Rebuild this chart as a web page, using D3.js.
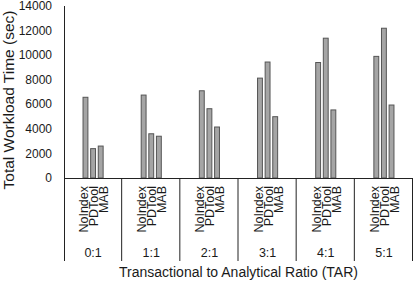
<!DOCTYPE html>
<html>
<head>
<meta charset="utf-8">
<script src="https://cdn.jsdelivr.net/npm/d3@7"></script>
<style>
  body { margin: 0; background: #fff; }
  svg text { font-family: "Liberation Sans", Arial, sans-serif; fill: #1a1a1a; }
</style>
</head>
<body>
<svg id="chart"></svg>
<script>
const ratios = ["0:1", "1:1", "2:1", "3:1", "4:1", "5:1"];
const tools = ["NoIndex", "PDTool", "MAB"];
const noIndex = [6570, 6750, 7100, 8130, 9400, 9900];
const pdTool = [2390, 3600, 5640, 9440, 11380, 12190];
const mab = [2600, 3400, 4150, 4990, 5540, 5940];
const yTicks = [0, 2000, 4000, 6000, 8000, 10000, 12000, 14000];

const W = 415, H = 282;
const margin = { top: 6, right: 2, bottom: 104, left: 64 };
const width = W - margin.left - margin.right;
const height = H - margin.top - margin.bottom;

const svg = d3.select("#chart").attr("width", W).attr("height", H);
const g = svg.append("g").attr("transform", `translate(${margin.left},${margin.top})`);

const x = d3.scaleBand().domain(ratios).range([0, width]).padding(0);
const xInner = d3.scaleBand().domain(tools).range([0, x.bandwidth()]).paddingInner(0.36).paddingOuter(2.5);
// rotated labels: baseline positions, on their own grid
const xLabel = d3.scalePoint().domain(tools).range([x.bandwidth() / 2 - 5, x.bandwidth() / 2 + 15]);
const y = d3.scaleLinear().domain([0, 14000]).range([height, 0]);

const rows = ratios.map((r, i) => ({ ratio: r, values: [noIndex[i], pdTool[i], mab[i]] }));

// y tick labels (no tick marks)
g.selectAll(".ytick")
  .data(yTicks)
  .enter().append("text")
  .attr("x", -12)
  .attr("y", d => y(d))
  .attr("dy", "0.35em")
  .attr("text-anchor", "end")
  .style("font-size", "12px")
  .text(d => d);

// bars
rows.forEach(row => {
  const grp = g.append("g").attr("transform", `translate(${x(row.ratio)},0)`);
  grp.selectAll("rect")
    .data(tools.map((t, j) => ({ tool: t, value: row.values[j] })))
    .enter().append("rect")
    .attr("x", d => xInner(d.tool))
    .attr("y", d => y(d.value))
    .attr("width", xInner.bandwidth())
    .attr("height", d => height - y(d.value))
    .attr("fill", "#a5a5a5")
    .attr("stroke", "#555")
    .attr("stroke-width", 1);

  grp.selectAll(".lbl")
    .data(tools)
    .enter().append("text")
    .attr("transform", d => `translate(${xLabel(d)},${height + 8}) rotate(-90)`)
    .attr("text-anchor", "end")
    .style("font-size", "12.5px")
    .text(d => d);

  grp.append("text")
    .attr("x", x.bandwidth() / 2)
    .attr("y", height + 79)
    .attr("text-anchor", "middle")
    .style("font-size", "12.5px")
    .text(row.ratio);
});

// axis lines and category dividers
g.append("line")
  .attr("x1", 0).attr("x2", width)
  .attr("y1", height + 0.5).attr("y2", height + 0.5)
  .attr("stroke", "#222");

g.append("line")
  .attr("x1", 0.5).attr("x2", 0.5)
  .attr("y1", 0).attr("y2", height + 83)
  .attr("stroke", "#222");

g.selectAll(".div")
  .data(ratios.slice(1).concat(["end"]))
  .enter().append("line")
  .attr("x1", d => (d === "end" ? width : x(d)) - 0.5)
  .attr("x2", d => (d === "end" ? width : x(d)) - 0.5)
  .attr("y1", height)
  .attr("y2", height + 83)
  .attr("stroke", "#222");

// titles
svg.append("text")
  .attr("transform", `translate(14,${margin.top + height / 2 + 8}) rotate(-90)`)
  .attr("text-anchor", "middle")
  .style("font-size", "15.5px")
  .text("Total Workload Time (sec)");

svg.append("text")
  .attr("x", margin.left + width / 2)
  .attr("y", 277)
  .attr("text-anchor", "middle")
  .style("font-size", "14px")
  .text("Transactional to Analytical Ratio (TAR)");
</script>
</body>
</html>
